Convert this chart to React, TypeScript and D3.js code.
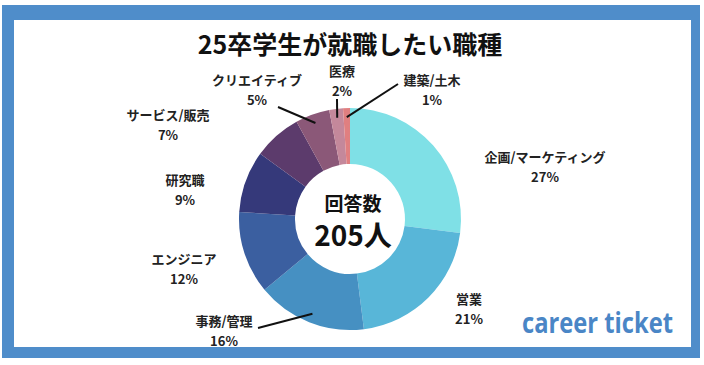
import React from "react";
import * as d3 from "d3";

const categories = ["企画/マーケティング", "営業", "事務/管理", "エンジニア", "研究職", "サービス/販売", "クリエイティブ", "医療", "建築/土木"];
const percentages = [27, 21, 16, 12, 9, 7, 5, 2, 1];
const sliceColors = ["#7fe0e6", "#58b6d8", "#4690c2", "#3b5fa0", "#35397a", "#5c3b6c", "#8b5878", "#c4889b", "#e07f80"];
const title = "25卒学生が就職したい職種";
const centerTitle = "回答数";
const centerValue = "205人";
const logoText = "career ticket";

// label block centres (layout)
const labelPos: [number, number][] = [
  [545, 166], [469, 308], [224, 330], [184, 268], [185, 189], [168, 124], [257, 89], [342, 80], [432, 89],
];
// leader line outer ends (layout), null = no leader
const leaderEnd: ([number, number] | null)[] = [
  null, null, [258, 328], null, null, null, [278, 107], [337, 99], [398, 84],
];

const W = 704, H = 365;
const cx = 350, cy = 219;
const rOuter = 111, rInner = 55;

export default function App() {
  const pie = d3.pie<number>().sort(null).value((d) => d);
  const arcs = pie(percentages);
  const arcGen = d3.arc<d3.PieArcDatum<number>>().innerRadius(rInner).outerRadius(rOuter);
  const font = "'Noto Sans CJK JP', 'Noto Sans', sans-serif";

  return (
    <svg width={W} height={H} style={{ position: "absolute", left: 0, top: 0, display: "block" }} xmlns="http://www.w3.org/2000/svg">
      <rect x={0} y={0} width={W} height={H} fill="#ffffff" />
      <rect x={2} y={5} width={698} height={353} fill="#4f8dca" />
      <rect x={14} y={20} width={677} height={327} fill="#ffffff" />
      <text x={350} y={43} textAnchor="middle" dominantBaseline="central" fontFamily={font} fontWeight={700} fontSize={25} fill="#111">
        {title}
      </text>
      <g transform={`translate(${cx},${cy})`}>
        {arcs.map((a, i) => (
          <path key={i} d={arcGen(a) || ""} fill={sliceColors[i]} />
        ))}
      </g>
      {arcs.map((a, i) => {
        const end = leaderEnd[i];
        if (!end) return null;
        const mid = (a.startAngle + a.endAngle) / 2;
        const r = 102;
        const x1 = cx + Math.sin(mid) * r;
        const y1 = cy - Math.cos(mid) * r;
        return <line key={i} x1={x1} y1={y1} x2={end[0]} y2={end[1]} stroke="#111" strokeWidth={2} />;
      })}
      {categories.map((c, i) => (
        <g key={i} fontFamily={font} fontWeight={700} fontSize={13} fill="#222" textAnchor="middle">
          <text x={labelPos[i][0]} y={labelPos[i][1] - 10} dominantBaseline="central">{c}</text>
          <text x={labelPos[i][0]} y={labelPos[i][1] + 10} dominantBaseline="central">{percentages[i]}%</text>
        </g>
      ))}
      <text x={353} y={202} textAnchor="middle" dominantBaseline="central" fontFamily={font} fontWeight={700} fontSize={19} fill="#111">
        {centerTitle}
      </text>
      <text x={353} y={234} textAnchor="middle" dominantBaseline="central" fontFamily={font} fontWeight={700} fontSize={28} fill="#111">
        {centerValue}
      </text>
      <text x={522} y={333} fontFamily="'Open Sans', Roboto, sans-serif" fontWeight={700} fontSize={28} fill="#4a86c6" textLength={151} lengthAdjust="spacingAndGlyphs">
        {logoText}
      </text>
    </svg>
  );
}
